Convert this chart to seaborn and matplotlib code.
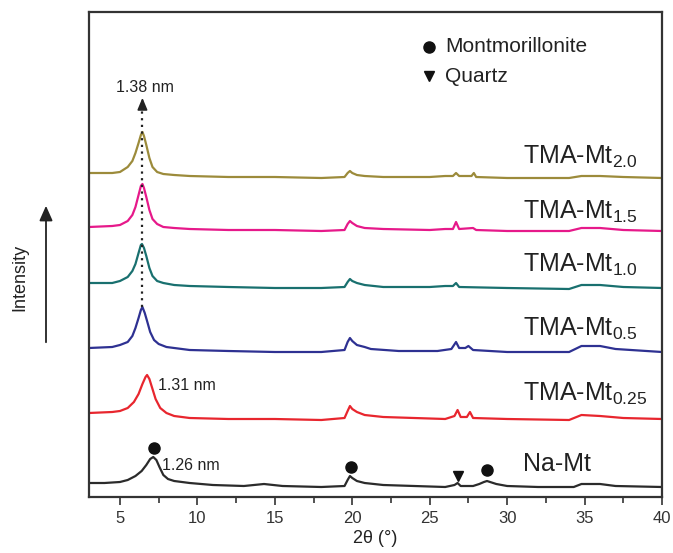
import numpy as np
import pandas as pd
import matplotlib
matplotlib.use("Agg")
import matplotlib.pyplot as plt
import seaborn as sns

# ---------------- data ----------------
samples = ["Na-Mt", "TMA-Mt0.25", "TMA-Mt0.5", "TMA-Mt1.0", "TMA-Mt1.5", "TMA-Mt2.0"]
offsets = [10, 78, 145, 209, 266, 319]          # vertical stacking (a.u.)

tt_na = [3.0, 4.0, 5.0, 5.5, 6.0, 6.4, 6.7, 6.95, 7.15, 7.35, 7.55, 7.8, 8.1, 8.5, 9.5, 11, 13, 14.3,
         15.5, 18, 19.5, 19.7, 19.85, 20.0, 20.3, 20.8, 22, 24, 26, 26.6, 26.8, 27.0, 27.8, 28.2, 28.5,
         28.7, 28.9, 29.3, 30, 32, 34.3, 34.8, 36, 37, 40]
i_na = [4, 4, 5, 7, 11, 16, 22, 28, 30, 27, 20, 12, 8, 6, 4, 2, 1, 3, 1, 0, 1, 7, 11, 9, 6, 4, 2, 1, 0,
        2, 4, 1, 1, 3, 5, 6, 5, 3, 1, 0, 0, 3, 3, 1, 0]

tt_025 = [3.0, 4.5, 5.0, 5.5, 5.9, 6.2, 6.45, 6.65, 6.75, 6.9, 7.1, 7.3, 7.6, 8.0, 8.5, 9.5, 12, 15, 18,
          19.5, 19.7, 19.85, 20.0, 20.3, 20.8, 22, 24, 26, 26.6, 26.8, 27.0, 27.4, 27.6, 27.8, 30, 34,
          34.8, 36, 37.5, 40]
i_025 = [6, 7, 8, 11, 17, 25, 35, 42, 44, 40, 30, 20, 11, 6, 3, 1, 0, 0, -1, 1, 8, 13, 10, 7, 4, 2, 1,
         0, 3, 9, 2, 2, 7, 1, 0, -1, 4, 3, 1, 0]

tt_05 = [3.0, 4.5, 5.0, 5.5, 5.8, 6.0, 6.2, 6.35, 6.45, 6.6, 6.75, 6.95, 7.2, 7.5, 8.0, 8.5, 9.5, 12,
         15, 18, 19.5, 19.7, 19.85, 20.0, 20.3, 20.8, 21.2, 23, 25.5, 26.4, 26.7, 26.9, 27.3, 27.5, 27.8,
         30, 34, 34.8, 36, 37, 40]
i_05 = [4, 5, 7, 10, 16, 24, 34, 42, 45, 39, 31, 20, 12, 8, 5, 4, 2, 1, 0, 0, 2, 10, 14, 11, 7, 5, 3, 1,
        1, 3, 10, 4, 4, 6, 2, 0, 0, 6, 6, 3, 0]

tt_10 = [3.0, 4.5, 5.0, 5.5, 5.8, 6.0, 6.2, 6.35, 6.42, 6.55, 6.7, 6.9, 7.1, 7.4, 7.8, 8.5, 9.5, 12,
         15, 18, 19.5, 19.7, 19.85, 20.0, 20.3, 20.8, 22, 25, 26.0, 26.5, 26.7, 26.9, 30, 34, 34.8, 36,
         37.5, 40]
i_10 = [5, 5, 7, 11, 17, 24, 35, 43, 44, 40, 32, 20, 12, 7, 5, 3, 2, 1, 0, 0, 1, 6, 9, 7, 5, 3, 1, 1, 2,
        2, 5, 1, 0, -1, 3, 3, 1, 0]

tt_15 = [3.0, 4.5, 5.0, 5.5, 5.8, 6.0, 6.2, 6.35, 6.45, 6.55, 6.7, 6.9, 7.1, 7.4, 7.8, 8.5, 9.5, 12,
         15, 18, 19.5, 19.7, 19.85, 20.0, 20.3, 20.8, 22, 25, 26.0, 26.5, 26.7, 26.9, 27.8, 28.0, 30,
         34, 34.8, 36, 37.5, 40]
i_15 = [4, 5, 6, 10, 16, 24, 36, 45, 47, 43, 34, 21, 12, 7, 4, 3, 2, 1, 1, 0, 1, 7, 10, 8, 5, 3, 2, 1,
        2, 2, 9, 2, 3, 1, 0, 0, 3, 3, 1, 0]

tt_20 = [3.0, 4.5, 5.0, 5.5, 5.8, 6.0, 6.2, 6.35, 6.45, 6.55, 6.7, 6.9, 7.1, 7.4, 7.8, 8.5, 9.5, 12,
         15, 18, 19.5, 19.7, 19.85, 20.0, 20.3, 20.8, 22, 25, 26.0, 26.5, 26.7, 26.9, 27.7, 27.85, 28.0,
         30, 34, 34.8, 36, 37.5, 40]
i_20 = [5, 5, 6, 11, 17, 25, 35, 43, 46, 42, 33, 20, 11, 6, 4, 3, 2, 1, 1, 0, 1, 5, 7, 5, 3, 2, 1, 1,
        2, 2, 5, 2, 2, 5, 1, 0, 0, 2, 2, 1, 0]

labels = ["Na-Mt", "TMA-Mt$_{0.25}$", "TMA-Mt$_{0.5}$", "TMA-Mt$_{1.0}$", "TMA-Mt$_{1.5}$", "TMA-Mt$_{2.0}$"]
xticks = [5, 10, 15, 20, 25, 30, 35, 40]

# peak markers (phase identification) on Na-Mt
mont_tt = [7.2, 19.9, 28.7]
mont_i = [49, 30, 27]
qtz_tt = [26.8]
qtz_i = [21]

colors = ["#2b2b2b", "#e8262e", "#2e3192", "#19706f", "#e6198a", "#9c8b3b"]

# ---------------- build long table ----------------
tts = [tt_na, tt_025, tt_05, tt_10, tt_15, tt_20]
ints = [i_na, i_025, i_05, i_10, i_15, i_20]
rows = []
for s, off, t, v in zip(samples, offsets, tts, ints):
    for a, b in zip(t, v):
        rows.append({"two_theta": a, "intensity": b + off, "sample": s})
df = pd.DataFrame(rows)

sns.set_theme(style="ticks")
plt.rcParams["font.family"] = ["Liberation Sans", "DejaVu Sans"]
plt.rcParams["mathtext.fontset"] = "custom"
plt.rcParams["mathtext.rm"] = "Liberation Sans"
plt.rcParams["mathtext.it"] = "Liberation Sans"
plt.rcParams["mathtext.bf"] = "Liberation Sans"

fig = plt.figure(figsize=(6.73, 5.53), dpi=100)
ax = fig.add_axes([89 / 673, 1 - 497 / 553, 573 / 673, 485 / 553])

sns.lineplot(data=df, x="two_theta", y="intensity", hue="sample", hue_order=samples,
             palette=colors, estimator=None, sort=False, linewidth=1.6, legend=False, ax=ax)

ax.set_xlim(3, 40)
ax.set_ylim(0, 485)
ax.set_xticks(xticks)
ax.set_xticks(np.arange(7.5, 40, 5), minor=True)
ax.set_yticks([])
ax.tick_params(axis="x", which="major", direction="out", length=6, width=1.2, labelsize=12,
               colors="#333333", pad=4)
ax.tick_params(axis="x", which="minor", direction="out", length=4, width=1.2, colors="#333333")
for sp in ax.spines.values():
    sp.set_visible(True)
    sp.set_linewidth(1.6)
    sp.set_color("#333333")
ax.set_xlabel("2θ (°)", fontsize=13, color="#222222", labelpad=3)
ax.set_ylabel("")

# sample labels
label_y = [26, 96, 161, 225, 278, 333]
for lab, yy in zip(labels, label_y):
    ax.text(31.0, yy, lab, fontsize=18, color="#222222", ha="left", va="baseline")

# phase markers
ax.plot(mont_tt, mont_i, "o", color="#111111", markersize=8, linestyle="none")
ax.plot(qtz_tt, qtz_i, "v", color="#111111", markersize=7, linestyle="none")

# marker key
ax.plot([24.95], [450], "o", color="#111111", markersize=8)
ax.text(26.0, 450, "Montmorillonite", fontsize=15, color="#222222", va="center", ha="left")
ax.plot([24.95], [421], "v", color="#111111", markersize=7)
ax.text(26.0, 421, "Quartz", fontsize=15, color="#222222", va="center", ha="left")

# d-spacing annotations
ax.plot([6.45, 6.45], [190, 395], linestyle=(0, (1, 2)), color="#222222", linewidth=1.6)
ax.annotate("", xy=(6.45, 402), xytext=(6.45, 390),
            arrowprops=dict(arrowstyle="-|>,head_width=0.25,head_length=0.6", color="#222222", lw=1.2))
ax.text(6.6, 410, "1.38 nm", fontsize=11.5, color="#222222", ha="center", va="center")
ax.text(7.45, 112, "1.31 nm", fontsize=11.5, color="#222222", ha="left", va="center")
ax.text(7.7, 31, "1.26 nm", fontsize=11.5, color="#222222", ha="left", va="center")

# Intensity axis (arrow)
fig.text(20 / 673, 1 - 277 / 553, "Intensity", rotation=90, fontsize=13, color="#222222",
         ha="center", va="center")
fig.patches.append(matplotlib.patches.FancyArrowPatch(
    (46 / 673, 1 - 345 / 553), (46 / 673, 1 - 203 / 553), transform=fig.transFigure,
    arrowstyle="-|>,head_width=4,head_length=9", color="#222222", lw=1.3))

fig.savefig("out.png", dpi=100)
